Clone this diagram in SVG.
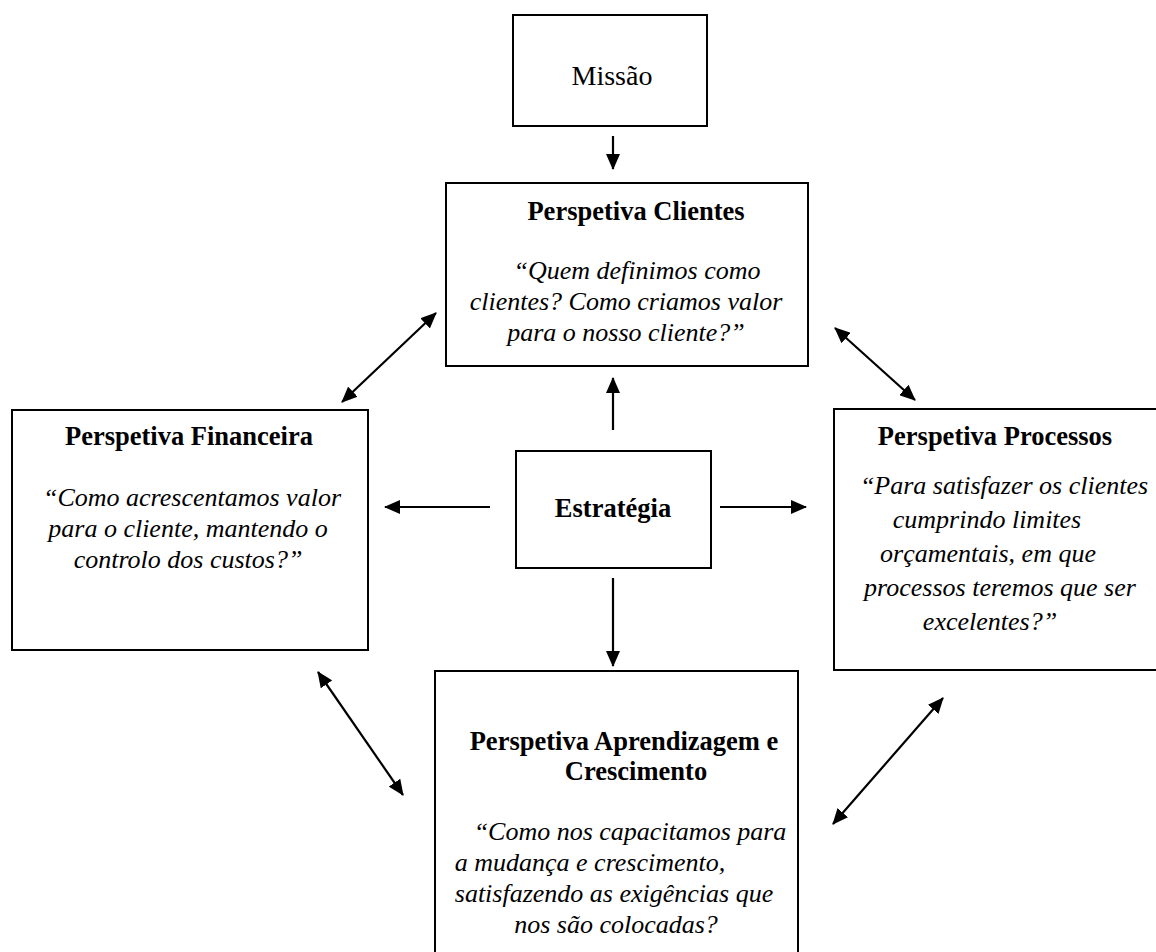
<svg xmlns="http://www.w3.org/2000/svg" width="1156" height="952" viewBox="0 0 1156 952">
<style>
.box{fill:#fff;stroke:#000;stroke-width:2}
.t{font-family:"Liberation Serif","Times New Roman",serif;font-size:26.5px;fill:#000;text-anchor:middle}
.b{font-weight:bold}
.i{font-style:italic;font-size:26px}
.c{stroke:#000;stroke-width:2.2;fill:none}
</style>
<defs>
<marker id="ah" markerUnits="userSpaceOnUse" markerWidth="16" markerHeight="14" refX="15" refY="7" orient="auto-start-reverse" viewBox="0 0 16 14">
<path d="M0,0 L16,7 L0,14 z" fill="#000"/>
</marker>
</defs>
<rect width="1156" height="952" fill="#fff"/>
<g id="missao">
<rect class="box" x="513" y="15" width="194" height="111"/>
<text class="t" x="612" y="85" style="font-size:28px">Missão</text>
</g>
<g id="clientes">
<rect class="box" x="446" y="183" width="362" height="183"/>
<text class="t b" x="636" y="220">Perspetiva Clientes</text>
<text class="t i" x="637" y="279">“Quem definimos como</text>
<text class="t i" x="626" y="310">clientes? Como criamos valor</text>
<text class="t i" x="626" y="341">para o nosso cliente?”</text>
</g>
<g id="financeira">
<rect class="box" x="12" y="410" width="356" height="240"/>
<text class="t b" x="189" y="445">Perspetiva Financeira</text>
<text class="t i" x="192" y="506">“Como acrescentamos valor</text>
<text class="t i" x="188" y="537">para o cliente, mantendo o</text>
<text class="t i" x="188" y="568">controlo dos custos?”</text>
</g>
<g id="estrategia">
<rect class="box" x="516" y="451" width="195" height="117"/>
<text class="t b" x="613" y="517">Estratégia</text>
</g>
<g id="processos">
<rect class="box" x="834" y="409" width="330" height="261"/>
<text class="t b" x="995" y="445">Perspetiva Processos</text>
<text class="t i" x="1004" y="494">“Para satisfazer os clientes</text>
<text class="t i" x="987" y="528">cumprindo limites</text>
<text class="t i" x="988" y="562">orçamentais, em que</text>
<text class="t i" x="1000" y="596">processos teremos que ser</text>
<text class="t i" x="990" y="630">excelentes?”</text>
</g>
<g id="aprendizagem">
<rect class="box" x="435" y="671" width="363" height="300"/>
<text class="t b" x="624" y="750">Perspetiva Aprendizagem e</text>
<text class="t b" x="636" y="780">Crescimento</text>
<text class="t i" x="630" y="840">“Como nos capacitamos para</text>
<text class="t i" x="590" y="871">a mudança e crescimento,</text>
<text class="t i" x="614" y="902">satisfazendo as exigências que</text>
<text class="t i" x="616" y="933">nos são colocadas?</text>
</g>
<g id="connectors">
<line class="c" x1="613" y1="136" x2="613" y2="169" marker-end="url(#ah)"/>
<line class="c" x1="613" y1="430" x2="613" y2="378" marker-end="url(#ah)"/>
<line class="c" x1="490" y1="507" x2="385" y2="507" marker-end="url(#ah)"/>
<line class="c" x1="720" y1="507" x2="806" y2="507" marker-end="url(#ah)"/>
<line class="c" x1="613" y1="578" x2="613" y2="666" marker-end="url(#ah)"/>
<line class="c" x1="342" y1="402" x2="436" y2="313" marker-start="url(#ah)" marker-end="url(#ah)"/>
<line class="c" x1="835" y1="328" x2="915" y2="400" marker-start="url(#ah)" marker-end="url(#ah)"/>
<line class="c" x1="318" y1="672" x2="403" y2="795" marker-start="url(#ah)" marker-end="url(#ah)"/>
<line class="c" x1="943" y1="698" x2="833" y2="824" marker-start="url(#ah)" marker-end="url(#ah)"/>
</g>
</svg>
